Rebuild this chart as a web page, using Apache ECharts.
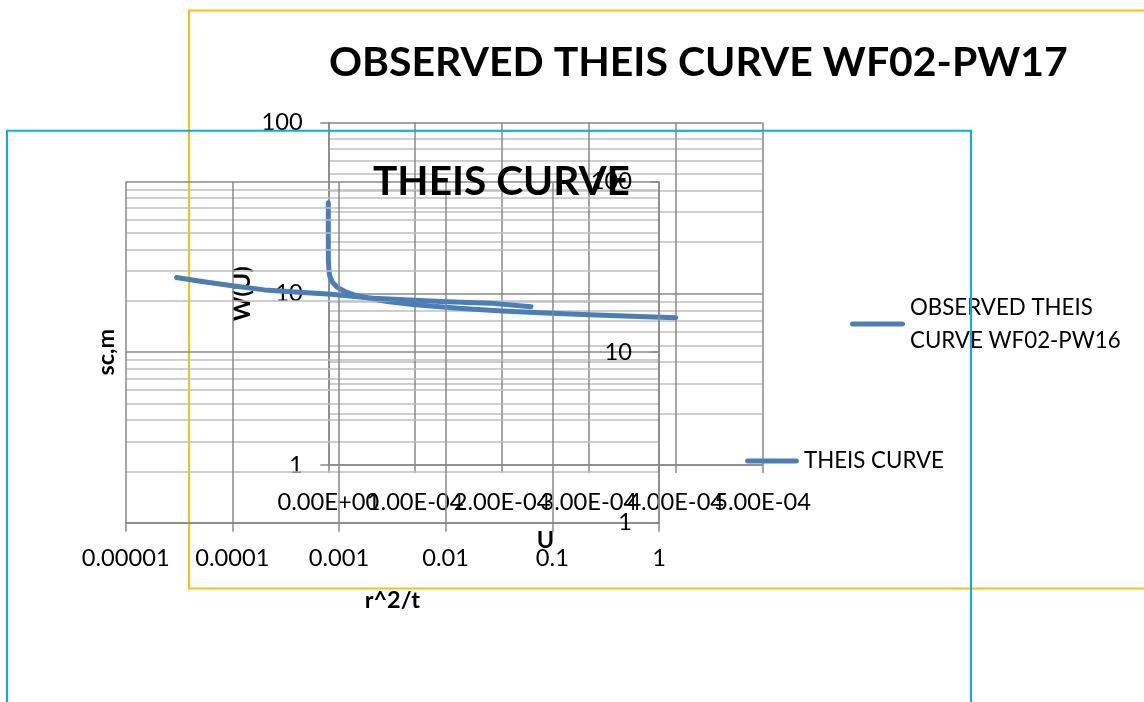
<!DOCTYPE html>
<html><head><meta charset="utf-8">
<script src="https://cdn.jsdelivr.net/npm/echarts@6/dist/echarts.min.js"></script>
<style>html,body{margin:0;padding:0;background:#fff}#chart{width:1144px;height:702px}</style>
</head><body><div id="chart"></div>
<script>
// ---------- Chart A (yellow frame): W(U) against U ----------
const titleA = 'OBSERVED THEIS CURVE WF02-PW17';
const seriesNameA = 'OBSERVED THEIS CURVE WF02-PW16';
const xNameA = 'U';
const yNameA = 'W(U)';
const uValues = [1e-15, 1e-14, 1e-13, 1e-12, 1e-11, 1e-10, 1e-9, 1e-8, 1e-7, 1e-6, 2e-6, 5e-6,
  1e-5, 2e-5, 3e-5, 5e-5, 7e-5, 1e-4, 1.5e-4, 2e-4, 2.5e-4, 3e-4, 3.5e-4, 4e-4];
const wuValues = [33.96, 31.66, 29.36, 27.05, 24.75, 22.45, 20.15, 17.84, 15.54, 13.24, 12.55, 11.63,
  10.94, 10.24, 9.84, 9.33, 8.99, 8.63, 8.22, 7.94, 7.72, 7.53, 7.38, 7.25];
const xTickLabelsA = ['0.00E+00', '1.00E-04', '2.00E-04', '3.00E-04', '4.00E-04', '5.00E-04'];
const yTickLabelsA = ['1', '10', '100'];

// ---------- Chart B (blue frame): sc,m against r^2/t ----------
const titleB = 'THEIS CURVE';
const seriesNameB = 'THEIS CURVE';
const xNameB = 'r^2/t';
const yNameB = 'sc,m';
const r2tValues = [3.0e-5, 5.0e-5, 1.0e-4, 2.0e-4, 4.2e-4, 8.5e-4, 1.4e-3, 2.1e-3, 9.0e-3, 2.6e-2, 6.3e-2];
const scValues = [27.4, 26.1, 24.5, 23.2, 22.5, 21.9, 21.2, 20.7, 19.8, 19.4, 18.5];
const xTickLabelsB = ['0.00001', '0.0001', '0.001', '0.01', '0.1', '1'];
const yTickLabelsB = ['1', '10', '100'];

// ---------- styling ----------
const FONT = 'Lato';
const ctx = document.createElement('canvas').getContext('2d');
function fit(text, weight, target) {
  ctx.font = weight + ' 100px ' + FONT;
  return 100 * target / ctx.measureText(text).width;
}
const tickSize = fit('0.00001', 'normal', 88);
const legendSize = fit('THEIS CURVE', 'normal', 140);
const axisTitleSize = fit('W(U)', 'bold', 55);
const titleASize = fit(titleA, 'bold', 739);
const titleBSize = fit(titleB, 'bold', 257);

const MAJOR = '#898989', MINOR = '#C0C0C0', LINE = '#4A7EBB';
const GW = 1.5;
const CAPSULE = 'path://M2.5,0 L52.5,0 A2.5,2.5 0 0 1 52.5,5 L2.5,5 A2.5,2.5 0 0 1 2.5,0 Z';

const GA = { left: 328.3, top: 122.5, width: 434.3, height: 342.5 };
const GB = { left: 125.7, top: 181.7, width: 533.3, height: 341 };

const tickText = (size) => ({ fontSize: size, lineHeight: size, color: '#000', fontFamily: FONT });
const nameText = { fontSize: axisTitleSize, lineHeight: axisTitleSize, fontWeight: 'bold', color: '#000', fontFamily: FONT };

// chart A's x labels overlap each other; they are split over two co-located axes
// (even / odd ticks) so that the library does not drop any of them.
const labelA = (parity) => (v) => {
  const i = Math.round(v / 1e-4);
  return i % 2 === parity ? xTickLabelsA[i] : '';
};

const chart = echarts.init(document.getElementById('chart'), null, { renderer: 'canvas' });
const option = {
  animation: false,
  backgroundColor: '#ffffff',
  textStyle: { fontFamily: FONT },
  title: [
    { text: titleA, left: 329, top: 62.5 - titleASize / 2, padding: 0, z: 2,
      textStyle: { fontSize: titleASize, lineHeight: titleASize, fontWeight: 'bold', color: '#000', fontFamily: FONT } },
    { text: titleB, left: 373, top: 182 - titleBSize / 2, padding: 0, z: 8,
      textStyle: { fontSize: titleBSize, lineHeight: titleBSize, fontWeight: 'bold', color: '#000', fontFamily: FONT } }
  ],
  legend: [
    { data: [seriesNameA], left: 850, top: 324 - 49.5, padding: 0, itemWidth: 55, itemHeight: 5, itemGap: 0,
      icon: CAPSULE, selectedMode: false, z: 2,
      formatter: (n) => n.replace('THEIS CURVE', 'THEIS\nCURVE'),
      textStyle: { fontSize: legendSize, lineHeight: 33, color: '#000', fontFamily: FONT, padding: [33, 0, 0, 0] } },
    { data: [seriesNameB], left: 745, top: 461 - 15, padding: 0, itemWidth: 54, itemHeight: 5, itemGap: 0,
      icon: CAPSULE, selectedMode: false, z: 8,
      textStyle: { fontSize: legendSize, lineHeight: 30, color: '#000', fontFamily: FONT } }
  ],
  grid: [
    Object.assign({ containLabel: false, outerBoundsMode: 'none', z: 1 }, GA),
    Object.assign({ containLabel: false, outerBoundsMode: 'none', z: 3 }, GB)
  ],
  xAxis: [
    { gridIndex: 0, type: 'value', min: 0, max: 5e-4, interval: 1e-4, position: 'bottom', z: 1,
      axisLine: { show: true, onZero: false, lineStyle: { color: MAJOR, width: GW } },
      axisTick: { show: true, inside: false, length: 8, lineStyle: { color: MAJOR, width: GW } },
      axisLabel: Object.assign({ show: true, interval: 0, hideOverlap: false, showMinLabel: true, showMaxLabel: true,
        margin: 37 - tickSize / 2, formatter: labelA(0) }, tickText(tickSize)),
      splitLine: { show: true, showMinLine: true, showMaxLine: true, lineStyle: { color: MAJOR, width: GW } },
      name: xNameA, nameLocation: 'middle', nameGap: 75 - axisTitleSize / 2, nameMoveOverlap: false, nameTextStyle: nameText },
    { gridIndex: 1, type: 'log', logBase: 10, min: 1e-5, max: 1, position: 'bottom', z: 3,
      axisLine: { show: true, onZero: false, lineStyle: { color: MAJOR, width: GW } },
      axisTick: { show: true, inside: false, length: 9, lineStyle: { color: MAJOR, width: GW } },
      axisLabel: Object.assign({ show: true, interval: 0, hideOverlap: false, showMinLabel: true, showMaxLabel: true,
        margin: 35.3 - tickSize / 2,
        formatter: (v) => xTickLabelsB[Math.round(Math.log10(v)) + 5] }, tickText(tickSize)),
      splitLine: { show: true, showMinLine: true, showMaxLine: true, lineStyle: { color: MAJOR, width: GW } },
      name: xNameB, nameLocation: 'middle', nameGap: 77.3 - axisTitleSize / 2, nameMoveOverlap: false, nameTextStyle: nameText },
    { gridIndex: 0, type: 'value', min: 0, max: 5e-4, interval: 1e-4, position: 'bottom', offset: 0, z: 1,
      axisLine: { show: false, onZero: false }, axisTick: { show: false }, splitLine: { show: false },
      axisLabel: Object.assign({ show: true, interval: 0, hideOverlap: false, showMinLabel: true, showMaxLabel: true,
        margin: 37 - tickSize / 2, formatter: labelA(1) }, tickText(tickSize)) }
  ],
  yAxis: [
    { gridIndex: 0, type: 'log', logBase: 10, min: 1, max: 100, position: 'left', z: 1,
      axisLine: { show: true, onZero: false, lineStyle: { color: MAJOR, width: GW } },
      axisTick: { show: true, inside: false, length: 8, lineStyle: { color: MAJOR, width: GW } },
      axisLabel: Object.assign({ show: true, showMinLabel: true, showMaxLabel: true, margin: 25.5,
        formatter: (v) => yTickLabelsA[Math.round(Math.log10(v))] }, tickText(tickSize)),
      splitLine: { show: true, lineStyle: { color: MAJOR, width: GW } },
      minorTick: { show: false, splitNumber: 9 },
      minorSplitLine: { show: true, lineStyle: { color: MINOR, width: GW } },
      name: yNameA, nameLocation: 'middle', nameGap: 86.3 - axisTitleSize / 2, nameMoveOverlap: false, nameTextStyle: nameText },
    { gridIndex: 1, type: 'log', logBase: 10, min: 1, max: 100, position: 'right', z: 3,
      axisLine: { show: true, onZero: false, lineStyle: { color: MAJOR, width: GW } },
      axisTick: { show: true, inside: true, length: 8, lineStyle: { color: MAJOR, width: GW } },
      axisLabel: Object.assign({ show: true, inside: true, showMinLabel: true, showMaxLabel: true, margin: 27,
        formatter: (v) => yTickLabelsB[Math.round(Math.log10(v))] }, tickText(tickSize)),
      splitLine: { show: true, lineStyle: { color: MAJOR, width: GW } },
      minorTick: { show: false, splitNumber: 9 },
      minorSplitLine: { show: true, lineStyle: { color: MINOR, width: GW } } },
    { gridIndex: 1, type: 'log', logBase: 10, min: 1, max: 100, position: 'left', z: 3,
      axisLine: { show: false }, axisTick: { show: false }, axisLabel: { show: false },
      splitLine: { show: false },
      name: yNameB, nameLocation: 'middle', nameGap: 19.7 - axisTitleSize / 2, nameMoveOverlap: false, nameTextStyle: nameText }
  ],
  series: [
    { name: seriesNameA, type: 'line', xAxisIndex: 0, yAxisIndex: 0, z: 2, silent: true,
      data: uValues.map((u, i) => [u, wuValues[i]]), symbol: 'none', showSymbol: false,
      lineStyle: { width: 5, color: LINE, cap: 'round', join: 'round' }, itemStyle: { color: LINE } },
    { name: seriesNameB, type: 'line', xAxisIndex: 1, yAxisIndex: 1, z: 9, silent: true,
      data: r2tValues.map((x, i) => [x, scValues[i]]), symbol: 'none', showSymbol: false,
      lineStyle: { width: 5, color: LINE, cap: 'round', join: 'round' }, itemStyle: { color: LINE } }
  ],
  graphic: [
    { type: 'rect', silent: true, z: 0, shape: { x: 189, y: 10.5, width: 1030, height: 578 },
      style: { fill: 'none', stroke: '#FFC000', lineWidth: 2 } },
    { type: 'rect', silent: true, z: 20, shape: { x: 7, y: 130.7, width: 964, height: 700 },
      style: { fill: 'none', stroke: '#00B0F0', lineWidth: 2 } }
  ]
};
chart.setOption(option);
</script></body></html>
